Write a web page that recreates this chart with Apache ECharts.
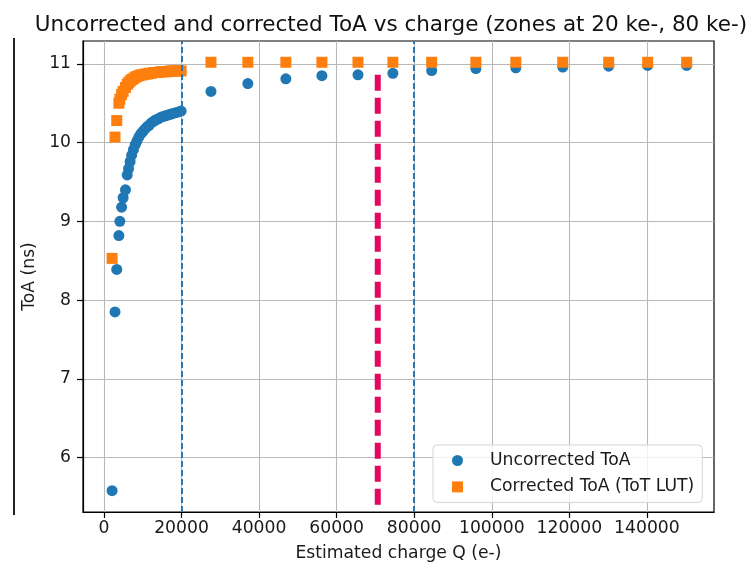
<!DOCTYPE html>
<html>
<head>
<meta charset="utf-8">
<script src="https://cdn.jsdelivr.net/npm/echarts@6/dist/echarts.min.js"></script>
<style>
  html, body { margin: 0; padding: 0; background: #fff; }
  #chart { width: 753px; height: 568px; }
</style>
</head>
<body>
<div id="chart"></div>
<script>
// Estimated charge (e-) for each measured pixel group
const chargeQ = [
  2100, 2850, 3300, 3850, 4100, 4550, 4950, 5550, 6000, 6350,
  6750, 7150, 7600, 8050, 8500, 9000, 9500, 10000, 10550, 11100,
  11650, 12200, 12800, 13400, 14000, 14600, 15200, 15850, 16500, 17150,
  17800, 18500, 19200, 19900,
  27600, 37100, 46900, 56200, 65500, 74500, 84500, 95900, 106200, 118300,
  130150, 140200, 150260
];
// Raw time of arrival (ns), affected by time-walk
const toaUncorrected = [
  5.58, 7.85, 8.39, 8.82, 9.00, 9.18, 9.30, 9.40, 9.59, 9.67,
  9.76, 9.84, 9.91, 9.97, 10.02, 10.07, 10.11, 10.14, 10.17, 10.20,
  10.22, 10.25, 10.27, 10.29, 10.30, 10.32, 10.33, 10.34, 10.35, 10.36,
  10.37, 10.38, 10.39, 10.40,
  10.65, 10.75, 10.81, 10.85, 10.86, 10.88, 10.915, 10.94, 10.95, 10.96,
  10.97, 10.98, 10.98
];
// Time of arrival after the ToT look-up-table correction (ns)
const toaCorrected = [
  8.53, 10.07, 10.28, 10.50, 10.55, 10.61, 10.65, 10.70, 10.74, 10.76,
  10.78, 10.80, 10.81, 10.83, 10.84, 10.85, 10.86, 10.86, 10.87, 10.87,
  10.88, 10.88, 10.89, 10.89, 10.89, 10.90, 10.90, 10.90, 10.90, 10.91,
  10.91, 10.91, 10.91, 10.91,
  11.02, 11.02, 11.02, 11.02, 11.02, 11.02, 11.02, 11.02, 11.02, 11.02,
  11.02, 11.02, 11.02
];
// Zone boundaries (e-)
const zoneEdges = [20000, 80000];
// Highlighted charge level and its vertical extent (e-, ns)
const highlightQ = 70600;
const highlightToA = [10.86, 5.37];
// Axis ticks
const xTicks = [0, 20000, 40000, 60000, 80000, 100000, 120000, 140000];
const yTicks = [6, 7, 8, 9, 10, 11];

const FONT = 'DejaVu Sans';
const TXT = 17.2;
const chart = echarts.init(document.getElementById('chart'), null, { renderer: 'canvas' });

const pairs = (xs, ys) => xs.map((x, i) => [x, ys[i]]);

chart.setOption({
  animation: false,
  backgroundColor: '#ffffff',
  title: {
    text: 'Uncorrected and corrected ToA vs charge (zones at 20 ke-, 80 ke-)',
    left: 386, top: 9, textAlign: 'center',
    textStyle: { fontFamily: FONT, fontSize: 21.5, fontWeight: 'normal', color: '#111' }
  },
  grid: {
    left: 83, top: 41, right: 39, bottom: 56,
    show: true, borderColor: '#000', borderWidth: 1.2, backgroundColor: '#fff'
  },
  legend: {
    orient: 'vertical',
    left: 433, top: 445,
    padding: [7, 8, 7, 19],
    itemWidth: 11, itemHeight: 11, itemGap: 9.4,
    backgroundColor: 'rgba(255,255,255,0.8)',
    borderColor: '#d4d4d4', borderWidth: 1, borderRadius: 4,
    textStyle: { fontFamily: FONT, fontSize: TXT, color: '#1a1a1a', padding: [0, 0, 0, 22] },
    data: [
      { name: 'Uncorrected ToA', icon: 'circle' },
      { name: 'Corrected ToA (ToT LUT)', icon: 'rect' }
    ]
  },
  xAxis: {
    type: 'value', min: -5400, max: 157300,
    name: 'Estimated charge Q (e-)', nameLocation: 'middle', nameGap: 33,
    nameTextStyle: { fontFamily: FONT, fontSize: TXT, color: '#1a1a1a' },
    axisLine: { show: true, onZero: false, lineStyle: { color: '#000', width: 1.2 } },
    axisTick: { show: true, length: 6, customValues: xTicks, lineStyle: { color: '#000', width: 1.2 } },
    axisLabel: {
      customValues: xTicks, fontFamily: FONT, fontSize: TXT, color: '#1a1a1a', margin: 8,
      formatter: v => String(v)
    },
    splitLine: { show: true, lineStyle: { color: '#b8b8b8', width: 1.1 } }
  },
  yAxis: {
    type: 'value', min: 5.31, max: 11.29,
    name: 'ToA (ns)', nameLocation: 'middle', nameGap: 44, nameRotate: 90,
    nameTextStyle: { fontFamily: FONT, fontSize: TXT, color: '#1a1a1a' },
    axisLine: { show: true, onZero: false, lineStyle: { color: '#000', width: 1.2 } },
    axisTick: { show: true, length: 6, customValues: yTicks, lineStyle: { color: '#000', width: 1.2 } },
    axisLabel: {
      customValues: yTicks, fontFamily: FONT, fontSize: TXT, color: '#1a1a1a', margin: 12,
      formatter: v => String(v)
    },
    splitLine: { show: true, lineStyle: { color: '#b8b8b8', width: 1.1 } }
  },
  series: [
    {
      name: 'Uncorrected ToA', type: 'scatter',
      symbol: 'circle', symbolSize: 11,
      itemStyle: { color: '#1f77b4', opacity: 1 },
      data: pairs(chargeQ, toaUncorrected), z: 3
    },
    {
      name: 'Corrected ToA (ToT LUT)', type: 'scatter',
      symbol: 'rect', symbolSize: 11,
      itemStyle: { color: '#ff7f0e', opacity: 1 },
      data: pairs(chargeQ, toaCorrected), z: 4
    },
    {
      name: 'zones', type: 'line', data: [], silent: true, z: 5,
      markLine: {
        silent: true, symbol: ['none', 'none'], label: { show: false },
        lineStyle: { color: '#2a77b3', width: 2, type: [6, 3] },
        data: zoneEdges.map(q => ({ xAxis: q }))
      }
    },
    {
      name: 'highlight', type: 'line', silent: true, z: 6,
      symbol: 'none',
      lineStyle: { color: '#e2075f', width: 6, type: [16, 7] },
      data: highlightToA.map(t => [highlightQ, t])
    }
  ],
  graphic: [
    {
      type: 'line', shape: { x1: 14, y1: 38, x2: 14, y2: 515 },
      style: { stroke: '#222', lineWidth: 2 }
    }
  ]
});
</script>
</body>
</html>
